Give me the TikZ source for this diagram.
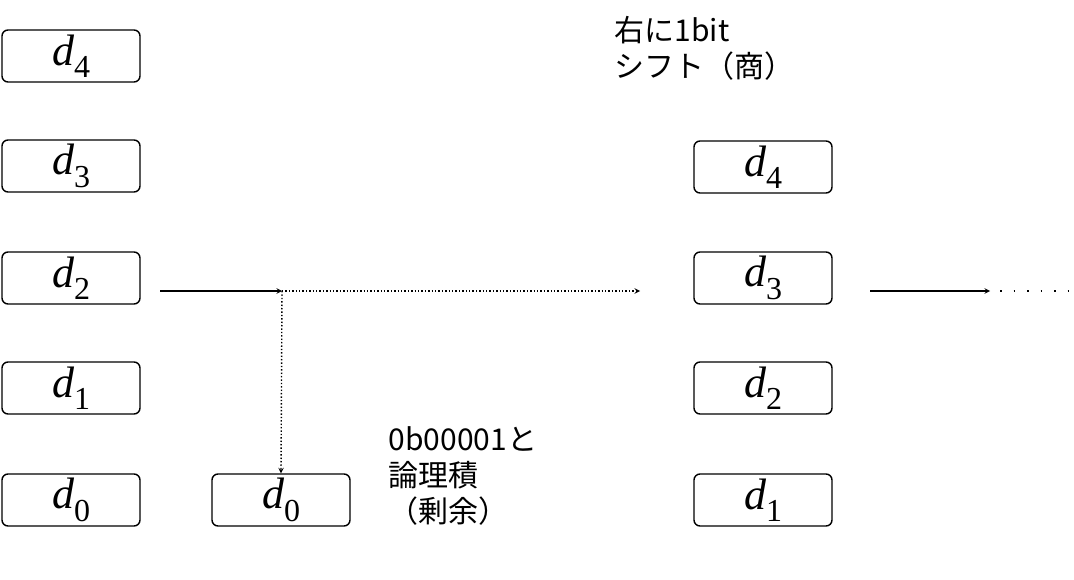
\documentclass[tikz,border=0pt]{standalone}
\usepackage{fontspec}
\setmainfont{Noto Sans CJK JP}
\newfontfamily\regfont{Liberation Serif}
\newcommand{\regname}[1]{{\itshape d}\raisebox{-0.28em}{\fontsize{32}{32}\selectfont #1}}
\usetikzlibrary{positioning}
\tikzset{
  reg/.style={draw, rounded corners=6pt, minimum width=138pt, minimum height=52pt,
    inner sep=0pt, font=\regfont\fontsize{44}{44}\selectfont},
  lbl/.style={font=\fontsize{30}{36}\selectfont, align=left, inner sep=0pt},
}
\begin{document}
\begin{tikzpicture}[x=1pt,y=-1pt,line width=1.4pt]
  \useasboundingbox (0,0) rectangle (1074,580);
  % Registers (left)
  \foreach \i/\y in {4/56,3/166,2/278,1/388,0/500}
    \node[reg] (l\i) at (71,\y) {\regname{\i}};
  % Remainder
  \node[reg] (r0) at (281,500) {\regname{0}};
  % Registers (right, shifted)
  \foreach \i/\y in {4/167,3/278,2/388,1/500}
    \node[reg] (s\i) at (763,\y) {\regname{\i}};

  % Labels
  \node[lbl, anchor=north west] (shift) at (614,16) {右に1bit\\シフト（商）};
  \node[lbl, anchor=north west] (and) at (388,426) {0b00001と\\論理積\\（剰余）};

  % Arrows
  \coordinate (split) at (282,291);
  \coordinate (mid) at (640,291);
  \coordinate (next) at (990,291);
  \coordinate (dots) at (1072,291);
  \draw[->, >=stealth] (160,291) -- (split);
  \draw[->, >=stealth, dotted] (split) -- (mid);
  \draw[->, >=stealth, dotted] (split) -- (r0.north);
  \draw[->, >=stealth] (870,291) -- (next);
  \draw[line width=1.5pt, dash pattern=on 1.5pt off 12pt] ([xshift=10pt]next) -- (dots);
\end{tikzpicture}
\end{document}
